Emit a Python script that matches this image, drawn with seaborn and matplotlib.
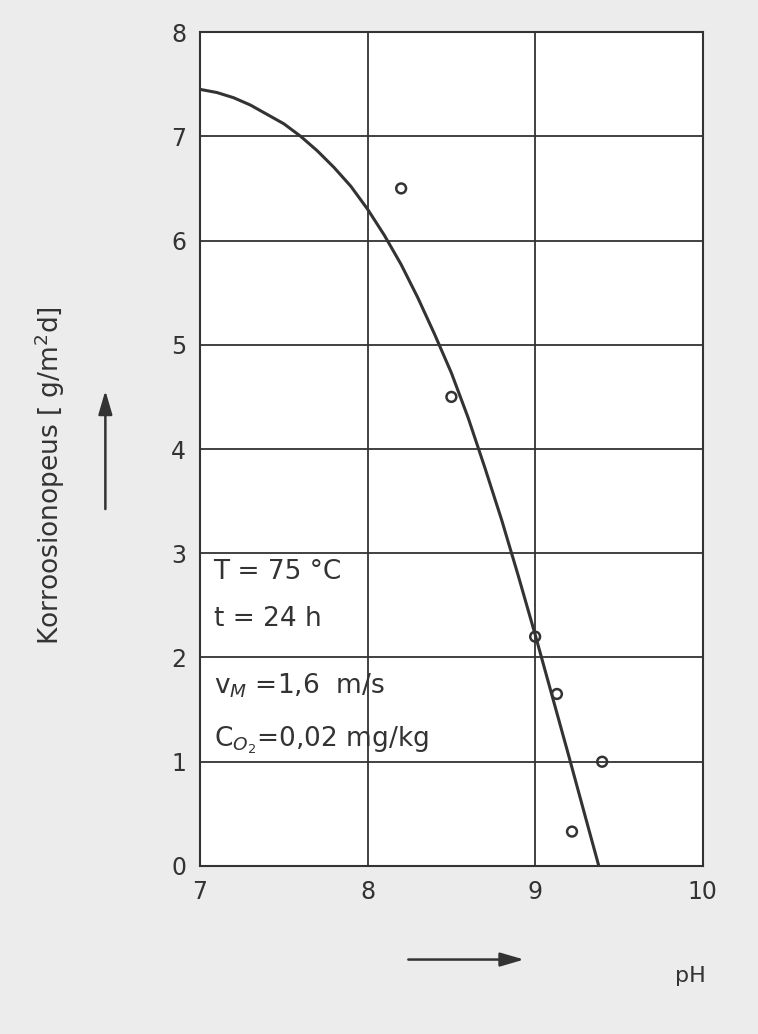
import matplotlib
matplotlib.use("Agg")
import matplotlib.pyplot as plt
import seaborn as sns
import numpy as np

curve_ph = [7.0, 7.1, 7.2, 7.3, 7.4, 7.5, 7.6, 7.7, 7.8, 7.9, 8.0, 8.1, 8.2, 8.3, 8.4,
            8.5, 8.6, 8.7, 8.8, 8.9, 9.0, 9.1, 9.2, 9.3, 9.38]
curve_rate = [7.45, 7.42, 7.37, 7.3, 7.21, 7.12, 7.0, 6.86, 6.7, 6.52, 6.3, 6.05, 5.77,
              5.45, 5.1, 4.73, 4.3, 3.82, 3.32, 2.78, 2.22, 1.64, 1.06, 0.47, 0.0]
pts_ph = [8.2, 8.5, 9.0, 9.13, 9.22, 9.4]
pts_rate = [6.5, 4.5, 2.2, 1.65, 0.33, 1.0]

sns.set_theme(style="white")
plt.rcParams['font.family'] = ['DejaVu Sans']
fig = plt.figure(figsize=(7.58, 10.34), dpi=100, facecolor="#ececec")
ax = fig.add_axes([0.264, 0.1625, 0.663, 0.8065])
ax.set_facecolor("white")
sns.lineplot(x=curve_ph, y=curve_rate, ax=ax, color="#333333", lw=2.2)
sns.scatterplot(x=pts_ph, y=pts_rate, ax=ax, marker="o", s=50, facecolor="none",
                edgecolor="#333333", linewidth=1.8)
ax.set_xlim(7, 10)
ax.set_ylim(0, 8)
ax.set_xticks([7, 8, 9, 10])
ax.set_yticks(range(0, 9))
ax.grid(True, color="#333333", lw=1.3)
for s in ax.spines.values():
    s.set_color("#333333"); s.set_linewidth(1.5)
ax.tick_params(labelsize=17, colors="#333333", length=0, pad=10)
ax.set_ylabel("")
fig.text(0.066, 0.54, r"Korroosionopeus [ g/m$^{2}$d]", fontsize=19, color="#333333",
         rotation=90, ha="center", va="center")
fig.text(0.89, 0.05, "pH", fontsize=16, color="#333333")
ax.annotate("", xy=(0.695, 0.072), xytext=(0.535, 0.072), xycoords="figure fraction",
            arrowprops=dict(arrowstyle="-|>,head_length=1.2,head_width=0.35", color="#333333", lw=1.8))
ax.annotate("", xy=(0.139, 0.625), xytext=(0.139, 0.505), xycoords="figure fraction",
            arrowprops=dict(arrowstyle="-|>,head_length=1.2,head_width=0.35", color="#333333", lw=1.8))
txt = dict(fontsize=19, color="#333333", transform=ax.transData)
ax.text(7.08, 2.75, "T = 75 °C", **txt)
ax.text(7.08, 2.3, "t = 24 h", **txt)
ax.text(7.08, 1.65, r"v$_M$ =1,6  m/s", **txt)
ax.text(7.08, 1.15, r"C$_{O_2}$=0,02 mg/kg", **txt)
fig.savefig("out.png", dpi=100, facecolor=fig.get_facecolor())
